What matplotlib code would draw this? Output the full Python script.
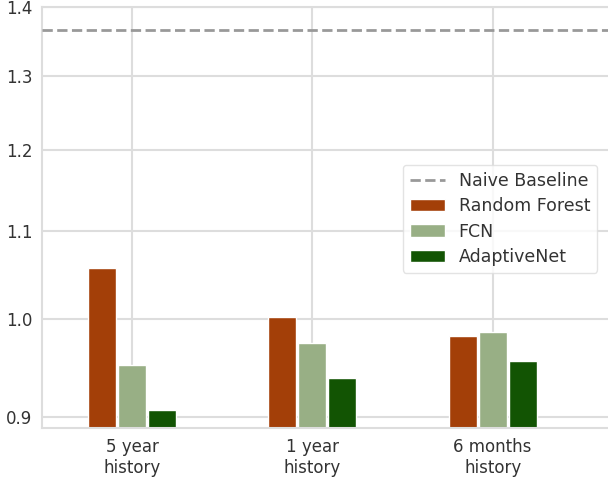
import numpy as np
import matplotlib.pyplot as plt
import seaborn as sns
from matplotlib.ticker import FixedLocator, NullLocator, FormatStrFormatter

sns.set_style("whitegrid")
plt.rcParams['font.family'] = ['DejaVu Sans']

# Datos
categorias = ['5 year\nhistory', '1 year\nhistory', '6 months\nhistory']
random_forest = [1.056, 1.002, 0.982]
fcn = [0.952, 0.974, 0.986]
adaptive_net = [0.906, 0.938, 0.956]
naive_baseline = 1.366

fig = plt.figure(figsize=(6.08, 4.8), dpi=100)
ax = fig.add_axes([42 / 608, 52 / 480, 566 / 608, 421 / 480])

x = np.arange(len(categorias))
w = 0.155
off = 1 / 6
ax.set_yscale('log')
ax.axhline(naive_baseline, color='#999999', linestyle='--', linewidth=2,
           label='Naive Baseline', zorder=3)
ax.bar(x - off, random_forest, w, color='#a33f08',
       edgecolor='white', linewidth=1, label='Random Forest', zorder=2)
ax.bar(x, fcn, w, color='#98af85',
       edgecolor='white', linewidth=1, label='FCN', zorder=2)
ax.bar(x + off, adaptive_net, w, color='#125403',
       edgecolor='white', linewidth=1, label='AdaptiveNet', zorder=2)

ax.set_xlim(-0.5, 2.64)
ax.set_ylim(0.889, 1.40)
ax.yaxis.set_major_locator(FixedLocator([0.9, 1.0, 1.1, 1.2, 1.3, 1.4]))
ax.yaxis.set_minor_locator(NullLocator())
ax.yaxis.set_major_formatter(FormatStrFormatter('%.1f'))
ax.set_xticks(x)
ax.set_xticklabels(categorias)
ax.tick_params(labelsize=12, colors='#333333')
ax.grid(True, color='#dddddd', linewidth=1.5, zorder=0)
ax.set_axisbelow(True)
for s in ['left', 'top', 'bottom']:
    ax.spines[s].set_color('#dddddd')
    ax.spines[s].set_linewidth(1.5)
ax.spines['right'].set_visible(False)

leg = ax.legend(loc='upper left', bbox_to_anchor=(403 / 608, 1 - 165 / 480),
                bbox_transform=fig.transFigure, borderaxespad=0, fontsize=12.5,
                labelspacing=0.42, frameon=True)
leg.get_frame().set_edgecolor('#dddddd')
for t in leg.get_texts():
    t.set_color('#333333')

plt.savefig('out.png', dpi=100)
